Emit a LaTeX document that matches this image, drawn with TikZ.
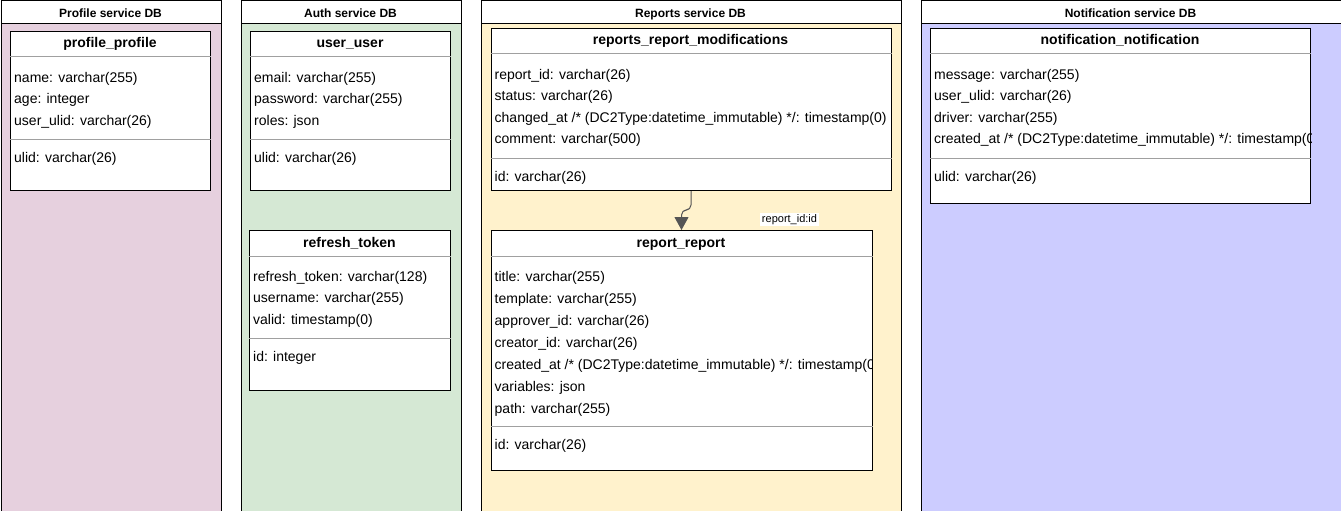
\documentclass[tikz,border=0pt]{standalone}
\usepackage{fontspec}
\setmainfont{Liberation Sans}
\usetikzlibrary{arrows.meta}
\definecolor{pinkbg}{HTML}{E6D0DE}
\definecolor{greenbg}{HTML}{D5E8D4}
\definecolor{yellowbg}{HTML}{FFF2CC}
\definecolor{purplebg}{HTML}{CCCCFF}
\definecolor{sepgray}{HTML}{A0A0A0}
\definecolor{arrowgray}{HTML}{555555}
\begin{document}
\begin{tikzpicture}[x=1pt,y=-1pt,
  cont/.style={draw=black,line width=1pt,anchor=north west,inner sep=0pt,minimum height=510pt},
  hdr/.style={draw=black,fill=white,line width=1pt,anchor=north west,inner sep=0pt,minimum height=23pt},
  hdrtext/.style={anchor=base,inner sep=0pt,font=\fontsize{12}{14}\selectfont\bfseries},
  tbl/.style={draw=black,fill=white,line width=1pt,anchor=north west,inner sep=0pt},
  ttl/.style={anchor=base,inner sep=0pt,font=\fontsize{14}{17}\selectfont\bfseries},
  fld/.style={anchor=base west,inner sep=0pt,font=\fontsize{14}{17}\selectfont},
  sep/.style={draw=sepgray,line width=1pt},
  conn/.style={draw=arrowgray,line width=1pt,rounded corners=5pt,-{Triangle[width=14pt,length=13pt,fill=arrowgray]}},
  lbl/.style={anchor=base,fill=white,inner sep=1.5pt,font=\fontsize{11}{13}\selectfont}]

\useasboundingbox (0,0) rectangle (1341,511);

% containers
\node[cont,fill=pinkbg,minimum width=220pt] (c1) at (0.5,0.5) {};
\node[cont,fill=greenbg,minimum width=220pt] (c2) at (240.5,0.5) {};
\node[cont,fill=yellowbg,minimum width=420pt] (c3) at (480.5,0.5) {};
\node[cont,fill=purplebg,minimum width=420pt] (c4) at (920.5,0.5) {};

\node[hdr,minimum width=220pt] (h1) at (0.5,0.5) {};
\node[hdr,minimum width=220pt] (h2) at (240.5,0.5) {};
\node[hdr,minimum width=420pt] (h3) at (480.5,0.5) {};
\node[hdr,minimum width=420pt] (h4) at (920.5,0.5) {};
\node[hdrtext] (h1t) at (110.5,17.3) {Profile service DB};
\node[hdrtext] (h2t) at (350.5,17.3) {Auth service DB};
\node[hdrtext] (h3t) at (690.5,17.3) {Reports service DB};
\node[hdrtext] (h4t) at (1130.5,17.3) {Notification service DB};

% tables
\node[tbl,minimum width=200pt,minimum height=159pt] (pp) at (10,31) {};
\node[tbl,minimum width=200pt,minimum height=159pt] (uu) at (250,31) {};
\node[tbl,minimum width=201pt,minimum height=160pt] (rt) at (249,230) {};
\node[tbl,minimum width=400pt,minimum height=162pt] (rrm) at (490.5,28) {};
\node[tbl,minimum width=381pt,minimum height=240pt] (rr) at (490.5,230) {};
\node[tbl,minimum width=380pt,minimum height=175pt] (nn) at (930,28) {};

% profile_profile
\node[ttl] (ppt) at (110,48) {profile\_profile};
\draw[sep] (pp.west |- 0,57) -- (pp.east |- 0,57);
\foreach \t [count=\i] in {name: varchar(255), age: integer, user\_ulid: varchar(26)}
  \node[fld] (pp-r\i) at (14,{60.5+21.5*\i}) {\t};
\draw[sep] (pp.west |- 0,139) -- (pp.east |- 0,139);
\node[fld] (pp-k) at (14,162) {ulid: varchar(26)};

% user_user
\node[ttl] (uut) at (350,48) {user\_user};
\draw[sep] (uu.west |- 0,57) -- (uu.east |- 0,57);
\foreach \t [count=\i] in {email: varchar(255), password: varchar(255), roles: json}
  \node[fld] (uu-r\i) at (254,{60.5+21.5*\i}) {\t};
\draw[sep] (uu.west |- 0,139) -- (uu.east |- 0,139);
\node[fld] (uu-k) at (254,162) {ulid: varchar(26)};

% refresh_token
\node[ttl] (rtt) at (349.5,247) {refresh\_token};
\draw[sep] (rt.west |- 0,256) -- (rt.east |- 0,256);
\foreach \t [count=\i] in {refresh\_token: varchar(128), username: varchar(255), valid: timestamp(0)}
  \node[fld] (rt-r\i) at (253,{259.5+21.5*\i}) {\t};
\draw[sep] (rt.west |- 0,338) -- (rt.east |- 0,338);
\node[fld] (rt-k) at (253,361) {id: integer};

% reports_report_modifications
\node[ttl] (rrmt) at (690.5,45) {reports\_report\_modifications};
\draw[sep] (rrm.west |- 0,54) -- (rrm.east |- 0,54);
\foreach \t [count=\i] in {report\_id: varchar(26), status: varchar(26), changed\_at /* (DC2Type:datetime\_immutable) */: timestamp(0), comment: varchar(500)}
  \node[fld] (rrm-r\i) at (494.5,{57.5+21.5*\i}) {\t};
\draw[sep] (rrm.west |- 0,158) -- (rrm.east |- 0,158);
\node[fld] (rrm-k) at (494.5,181) {id: varchar(26)};

% report_report
\node[ttl] (rrt) at (681,247) {report\_report};
\draw[sep] (rr.west |- 0,256) -- (rr.east |- 0,256);
\begin{scope}
  \clip (rr.north west) rectangle (rr.south east);
  \foreach \t [count=\i] in {title: varchar(255), template: varchar(255), approver\_id: varchar(26), creator\_id: varchar(26), created\_at /* (DC2Type:datetime\_immutable) */: timestamp(0), variables: json, path: varchar(255)}
    \node[fld] (rr-r\i) at (494.5,{259+22*\i}) {\t};
\end{scope}
\draw[sep] (rr.west |- 0,426) -- (rr.east |- 0,426);
\node[fld] (rr-k) at (494.5,449.5) {id: varchar(26)};

% notification_notification
\node[ttl] (nnt) at (1120,45) {notification\_notification};
\draw[sep] (nn.west |- 0,54) -- (nn.east |- 0,54);
\begin{scope}
  \clip (nn.north west) rectangle (nn.south east);
  \foreach \t [count=\i] in {message: varchar(255), user\_ulid: varchar(26), driver: varchar(255), created\_at /* (DC2Type:datetime\_immutable) */: timestamp(0)}
    \node[fld] (nn-r\i) at (934,{57.5+21.5*\i}) {\t};
\end{scope}
\draw[sep] (nn.west |- 0,158) -- (nn.east |- 0,158);
\node[fld] (nn-k) at (934,181) {ulid: varchar(26)};

% relation
\draw[conn] (rrm.south) |- ([yshift=20pt]rr.north) -- (rr.north);
\node[lbl] (lab) at (789.5,222.5) {report\_id:id};
\end{tikzpicture}
\end{document}
